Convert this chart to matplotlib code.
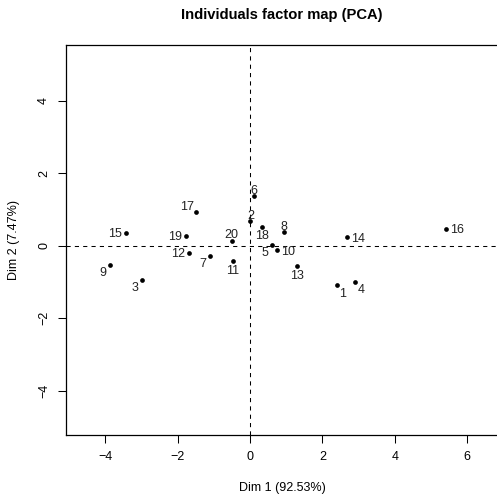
import matplotlib
matplotlib.use("Agg")
import matplotlib.pyplot as plt

labels = ["1", "2", "3", "4", "5", "6", "7", "8", "9", "10",
          "11", "12", "13", "14", "15", "16", "17", "18", "19", "20"]
dim1 = [2.39, 0.01, -2.99, 2.90, 0.61, 0.11, -1.10, 0.94, -3.86, 0.74,
        -0.47, -1.69, 1.30, 2.68, -3.43, 5.42, -1.50, 0.33, -1.77, -0.51]
dim2 = [-1.09, 0.67, -0.94, -1.00, 0.02, 1.37, -0.28, 0.37, -0.52, -0.13,
        -0.41, -0.20, -0.55, 0.24, 0.36, 0.47, 0.92, 0.52, 0.28, 0.13]
xticks = [-4, -2, 0, 2, 4, 6]
yticks = [-4, -2, 0, 2, 4]
title = "Individuals factor map (PCA)"
xlabel = "Dim 1 (92.53%)"
ylabel = "Dim 2 (7.47%)"

# label placement (style): offsets in pixels (dx right, dy down)
place = {
    "1": (6, 7), "2": (0, -7), "3": (-7, 7), "4": (6, 7),
    "5": (-7, 7), "6": (0, -7), "7": (-7, 7), "8": (0, -7),
    "9": (-7, 7), "10": (11, 0), "11": (0, 8.5), "12": (-11, 0),
    "13": (0, 8.5), "14": (11, 0), "15": (-10.5, 0), "16": (11, 0),
    "17": (-9, -7), "18": (0, 7.5), "19": (-10.5, 0), "20": (0, -7),
}

W, H = 497, 495
plt.rcParams["font.family"] = ["Liberation Sans", "DejaVu Sans"]
fig = plt.figure(figsize=(W / 100, H / 100), dpi=100)
left, right, top, bottom = 66, 498, 44.7, 434.7
ax = fig.add_axes([left / W, 1 - bottom / H, (right - left) / W, (bottom - top) / H])

scale = 36.2
x0, y0 = 250.0, 245.7
ax.set_xlim((left - x0) / scale, (right - x0) / scale)
ax.set_ylim((y0 - bottom) / scale, (y0 - top) / scale)

ax.axhline(0, color="black", lw=0.75, ls=(0, (4, 4)), zorder=1)
ax.axvline(0, color="black", lw=0.75, ls=(0, (4, 4)), zorder=1)
ax.plot(dim1, dim2, "o", color="black", ms=3.4, mew=0, zorder=3)

fs = 9.0
for lab, x, y in zip(labels, dim1, dim2):
    dx, dy = place[lab]
    ax.annotate(lab, (x, y), xytext=(dx * 0.72, -dy * 0.72), textcoords="offset points",
                ha="center", va="center_baseline", fontsize=fs, color="#222222", zorder=4)

ax.set_xticks(xticks)
ax.set_yticks(yticks)
ax.set_xticklabels([str(t).replace("-", "\u2212") for t in xticks])
ax.set_yticklabels([str(t).replace("-", "\u2212") for t in yticks], rotation=90, va="center")
ax.tick_params(direction="out", length=5.5, width=0.75, labelsize=fs, pad=6)
for s in ax.spines.values():
    s.set_linewidth(0.9)

ax.set_xlabel(xlabel, fontsize=fs, labelpad=14)
ax.set_ylabel(ylabel, fontsize=fs, labelpad=13)
fig.text((left + right) / 2 / W, 1 - 15 / H, title, ha="center", va="center",
         fontsize=10.6, fontweight="bold")

fig.savefig("out.png", dpi=100)
